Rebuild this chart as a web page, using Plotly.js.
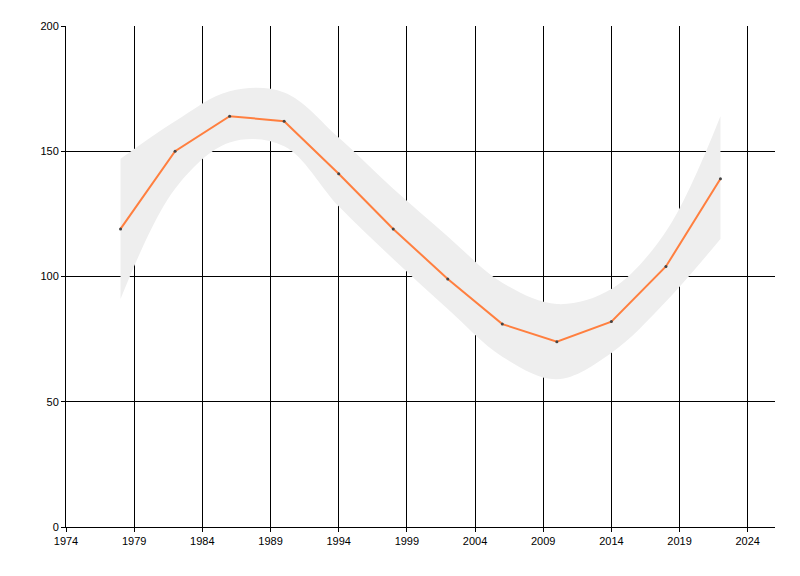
<!DOCTYPE html>
<html>
<head>
<meta charset="utf-8">
<script src="https://cdn.plot.ly/plotly-3.0.1.min.js"></script>
<style>
  html, body { margin: 0; padding: 0; background: #fff; }
  #chart { width: 800px; height: 576px; }
</style>
</head>
<body>
<div id="chart"></div>
<script>
// values
var years = [1978, 1982, 1986, 1990, 1994, 1998, 2002, 2006, 2010, 2014, 2018, 2022];
var values = [119, 150, 164, 162, 141, 119, 99, 81, 74, 82, 104, 139];
var upper = [147, 162, 174, 173.5, 155.5, 135, 116, 97.5, 89, 95, 118, 164];
var lower = [91, 135, 153.5, 152, 128, 107, 87, 68, 59, 69.5, 90, 115];

var bandLow = {
  x: years, y: lower,
  mode: 'lines',
  line: { width: 0, shape: 'spline', smoothing: 1 },
  hoverinfo: 'skip',
  showlegend: false
};

var bandHigh = {
  x: years, y: upper,
  mode: 'lines',
  line: { width: 0, shape: 'spline', smoothing: 1 },
  fill: 'tonexty',
  fillcolor: '#eeeeee',
  hoverinfo: 'skip',
  showlegend: false
};

var series = {
  x: years, y: values,
  mode: 'lines+markers',
  line: { color: '#ff7f3f', width: 2 },
  marker: { color: '#444444', size: 3 },
  showlegend: false
};

var layout = {
  width: 800,
  height: 576,
  margin: { l: 66, r: 25, t: 26, b: 49 },
  paper_bgcolor: '#ffffff',
  plot_bgcolor: '#ffffff',
  font: { family: 'Liberation Sans, Arial, sans-serif', size: 11, color: '#000000' },
  xaxis: {
    range: [1974, 2026],
    tick0: 1974, dtick: 5,
    showgrid: true, gridcolor: '#000000', gridwidth: 1,
    showline: true, linecolor: '#000000', linewidth: 1,
    ticks: 'outside', ticklen: 4, tickcolor: '#000000',
    zeroline: false
  },
  yaxis: {
    range: [0, 200],
    tick0: 0, dtick: 50,
    showgrid: true, gridcolor: '#000000', gridwidth: 1,
    showline: true, linecolor: '#000000', linewidth: 1,
    ticks: 'outside', ticklen: 4, tickcolor: '#000000',
    zeroline: false
  }
};

Plotly.newPlot('chart', [bandLow, bandHigh, series], layout, { staticPlot: true });
</script>
</body>
</html>
